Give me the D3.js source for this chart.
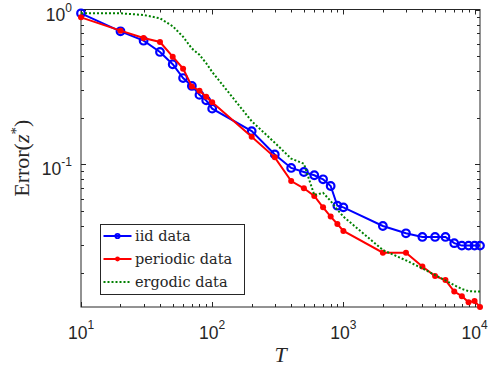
<!DOCTYPE html>
<html>
<head>
<meta charset="utf-8">
<script src="https://cdn.jsdelivr.net/npm/d3@7"></script>
<style>
  html, body { margin: 0; padding: 0; background: #fff; }
  svg { display: block; }
  .serif { font-family: "Liberation Serif", "DejaVu Serif", serif; }
  .legend-text { font-family: "DejaVu Serif", "Liberation Serif", serif; }
  .sans { font-family: "Liberation Sans", Arial, sans-serif; }
</style>
</head>
<body>
<div id="chart"></div>
<script>
// sample horizons T shared by every series
const horizons = [10, 20, 30, 40, 50, 60, 70, 80, 90, 100,
  200, 300, 400, 500, 600, 700, 800, 900, 1000,
  2000, 3000, 4000, 5000, 6000, 7000, 8000, 9000, 10000, 11000]

const iidError = [0.945, 0.723, 0.629, 0.532, 0.443, 0.361, 0.321, 0.281, 0.259, 0.229,
  0.164, 0.116, 0.0948, 0.0893, 0.0851, 0.0801, 0.0725, 0.0541, 0.0528,
  0.040, 0.0359, 0.034, 0.034, 0.034, 0.031, 0.0299, 0.0299, 0.0299, 0.0299]

const periodicError = [0.890, 0.730, 0.655, 0.617, 0.496, 0.415, 0.318, 0.299, 0.2735, 0.252,
  0.151, 0.111, 0.078, 0.0701, 0.0625, 0.0528, 0.046, 0.0412, 0.0372,
  0.0269, 0.0269, 0.0219, 0.0190, 0.0179, 0.0151, 0.0141, 0.0129, 0.0131, 0.012]

const ergodicError = [0.945, 0.945, 0.922, 0.877, 0.78, 0.667, 0.56, 0.51, 0.45, 0.395,
  0.19, 0.138, 0.109, 0.101, 0.0634, 0.0655, 0.058, 0.051, 0.046,
  0.028, 0.024, 0.0213, 0.0193, 0.0178, 0.0166, 0.0157, 0.0152, 0.0151, 0.0151]

const xTickLabels = [[10, '1'], [100, '2'], [1000, '3'], [10000, '4']]
const yTickLabels = [[1, '0'], [0.1, '-1']]

const seriesNames = ['iid data', 'periodic data', 'ergodic data']

const width = 488
const height = 371
const margin = { left: 81, right: 8, top: 9.5, bottom: 64 }

const svg = d3.select('#chart')
  .append('svg')
  .attr('width', width)
  .attr('height', height)

const x = d3.scaleLog()
  .domain([10, 11000])
  .range([margin.left, width - margin.right])

const y = d3.scaleLog()
  .domain([0.012, 1])
  .range([height - margin.bottom, margin.top])

const x0 = x.range()[0], x1 = x.range()[1]
const y0 = y.range()[0], y1 = y.range()[1]
const axisColor = '#262626'

const isMajor = (v) => Math.abs(Math.log10(v) - Math.round(Math.log10(v))) < 1e-9

// ticks on all four sides, pointing inwards
const ticks = svg.append('g').attr('stroke', axisColor).attr('stroke-width', 1)
x.ticks().forEach((t) => {
  const len = isMajor(t) ? 5 : 3
  const px = Math.round(x(t)) + 0.5
  ticks.append('line').attr('x1', px).attr('x2', px).attr('y1', y0).attr('y2', y0 - len)
  ticks.append('line').attr('x1', px).attr('x2', px).attr('y1', y1).attr('y2', y1 + len)
})
y.ticks().forEach((t) => {
  const len = isMajor(t) ? 5 : 3
  const py = Math.round(y(t)) + 0.5
  ticks.append('line').attr('x1', x0).attr('x2', x0 + len).attr('y1', py).attr('y2', py)
  ticks.append('line').attr('x1', x1).attr('x2', x1 - len).attr('y1', py).attr('y2', py)
})

svg.append('rect')
  .attr('x', x0)
  .attr('y', y1)
  .attr('width', x1 - x0)
  .attr('height', y0 - y1)
  .attr('fill', 'none')
  .attr('stroke', axisColor)
  .attr('stroke-width', 1)

// tick labels 10^k
xTickLabels.forEach(([v, e]) => {
  const t = svg.append('text')
    .attr('class', 'sans')
    .attr('x', x(v))
    .attr('y', y0 + 32)
    .attr('text-anchor', 'middle')
    .attr('fill', axisColor)
    .style('font-size', '17.5px')
  t.append('tspan').text('10')
  t.append('tspan').attr('dy', -10).style('font-size', '12px').text(e)
})
yTickLabels.forEach(([v, e]) => {
  const t = svg.append('text')
    .attr('class', 'sans')
    .attr('x', x0 - 9)
    .attr('y', y(v) + 11)
    .attr('text-anchor', 'end')
    .attr('fill', axisColor)
    .style('font-size', '17.5px')
  t.append('tspan').text('10')
  t.append('tspan').attr('dy', -9).style('font-size', '12px').text(e)
})

// axis titles
svg.append('text')
  .attr('class', 'serif')
  .attr('x', (x0 + x1) / 2)
  .attr('y', 362)
  .attr('text-anchor', 'middle')
  .attr('fill', axisColor)
  .style('font-style', 'italic')
  .style('font-size', '22px')
  .text('T')

const yTitle = svg.append('text')
  .attr('class', 'serif')
  .attr('transform', `translate(29,${(y0 + y1) / 2}) rotate(-90)`)
  .attr('text-anchor', 'middle')
  .attr('fill', axisColor)
  .style('font-size', '22px')
yTitle.append('tspan').text('Error(')
yTitle.append('tspan').style('font-style', 'italic').text('z')
yTitle.append('tspan').attr('dy', -8).style('font-size', '15px').text('*')
yTitle.append('tspan').attr('dy', 8).text(')')

// series
const line = d3.line()
  .x((d) => x(d[0]))
  .y((d) => y(d[1]))

const iidPts = horizons.map((t, i) => [t, iidError[i]])
const perPts = horizons.map((t, i) => [t, periodicError[i]])
const ergPts = horizons.map((t, i) => [t, ergodicError[i]])

const plot = svg.append('g')

plot.append('path')
  .attr('d', line(iidPts))
  .attr('fill', 'none')
  .attr('stroke', '#0000ff')
  .attr('stroke-width', 2)
plot.append('g')
  .selectAll('circle')
  .data(iidPts)
  .join('circle')
  .attr('cx', (d) => x(d[0]))
  .attr('cy', (d) => y(d[1]))
  .attr('r', 3.8)
  .attr('fill', 'none')
  .attr('stroke', '#0000ff')
  .attr('stroke-width', 2.2)

plot.append('path')
  .attr('d', line(perPts))
  .attr('fill', 'none')
  .attr('stroke', '#ff0000')
  .attr('stroke-width', 2)
plot.append('g')
  .selectAll('circle')
  .data(perPts)
  .join('circle')
  .attr('cx', (d) => x(d[0]))
  .attr('cy', (d) => y(d[1]))
  .attr('r', 3)
  .attr('fill', '#ff0000')

plot.append('path')
  .attr('d', line(ergPts))
  .attr('fill', 'none')
  .attr('stroke', '#008000')
  .attr('stroke-width', 2)
  .attr('stroke-dasharray', '2,2')

// legend
const legend = svg.append('g')
legend.append('rect')
  .attr('x', 100.5)
  .attr('y', 224.5)
  .attr('width', 144)
  .attr('height', 70)
  .attr('fill', '#fff')
  .attr('stroke', axisColor)
  .attr('stroke-width', 1)

const rowY = [236, 259, 282]
const styles = [
  { color: '#0000ff', dash: null, marker: 'o' },
  { color: '#ff0000', dash: null, marker: '.' },
  { color: '#008000', dash: '2,2', marker: null }
]
seriesNames.forEach((name, i) => {
  const g = legend.append('g').attr('transform', `translate(0,${rowY[i]})`)
  g.append('line')
    .attr('x1', 103.5)
    .attr('x2', 131.5)
    .attr('stroke', styles[i].color)
    .attr('stroke-width', 2)
    .attr('stroke-dasharray', styles[i].dash)
  if (styles[i].marker === 'o') {
    g.append('circle').attr('cx', 117.5).attr('r', 2.2).attr('fill', 'none')
      .attr('stroke', styles[i].color).attr('stroke-width', 1.8)
  } else if (styles[i].marker === '.') {
    g.append('circle').attr('cx', 117.5).attr('r', 2.4).attr('fill', styles[i].color)
  }
  g.append('text')
    .attr('class', 'legend-text')
    .attr('x', 135)
    .attr('y', 5)
    .attr('fill', axisColor)
    .style('font-size', '14.5px')
    .text(name)
})
</script>
</body>
</html>
